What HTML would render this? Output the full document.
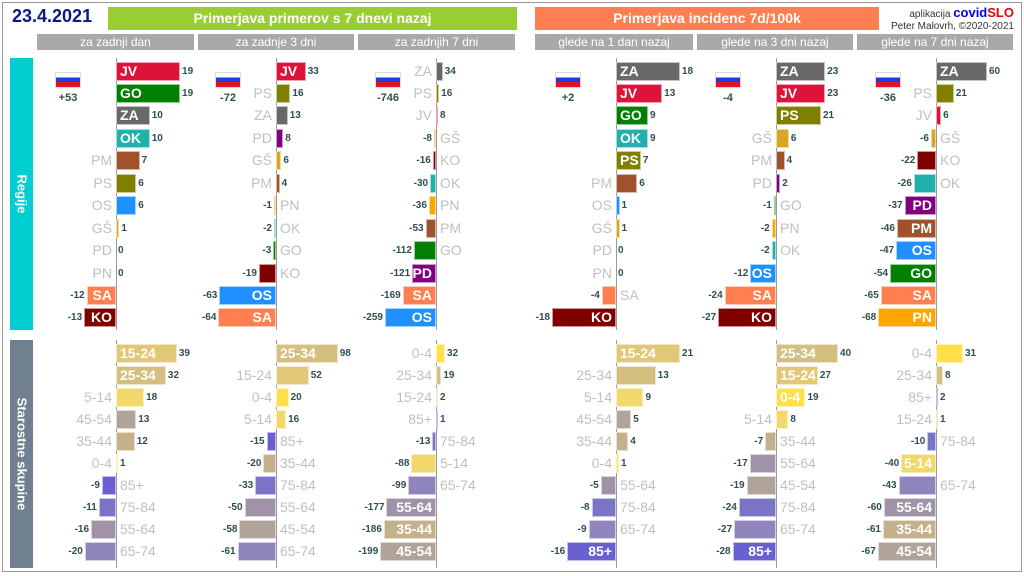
<!DOCTYPE html>
<html><head><meta charset="utf-8"><style>
body{margin:0;width:1024px;height:576px;background:#fff;position:relative;overflow:hidden;font-family:"Liberation Sans",sans-serif}
div{position:absolute;box-sizing:border-box}
#c{left:0;top:0;width:1024px;height:576px}
.frame{left:2px;top:2px;width:1020px;height:570px;border:1px solid #999}
.hdr{height:23px;top:7px;color:#fff;font-weight:bold;font-size:14px;text-align:center;line-height:23px}
.sub{top:34px;height:16px;background:#a9a9a9;color:#fff;font-size:12px;text-align:center;line-height:16px}
.side{left:10px;width:23px;color:#fff;font-weight:bold;font-size:13px}
.side span{position:absolute;left:50%;top:50%;transform:translate(-50%,-50%) rotate(90deg);white-space:nowrap}
.bar{height:19px;border:1px solid rgba(255,255,255,.6)}
.in{color:#fff;font-weight:bold;font-size:14px;line-height:19px;white-space:nowrap}
.out{color:#c0c0c0;font-size:14px;line-height:19px;white-space:nowrap}
.val{color:#2f4f4f;font-weight:bold;font-size:10px;line-height:19px;white-space:nowrap}
.ax{width:1px;background:#999}
.flag{width:26px;height:16px;border:1px solid #ddd;background:linear-gradient(#fff 0 33%,#1a3ee0 33% 66%,#e0141c 66%)}
.fn{color:#2f4f4f;font-size:11px;font-weight:bold;width:40px;text-align:center}
</style></head><body>
<div class="frame"></div>
<div style="left:12px;top:6px;font-size:18px;font-weight:bold;color:#0a1a80">23.4.2021</div>
<div class="hdr" style="left:108px;width:409px;background:#9acd32">Primerjava primerov s 7 dnevi nazaj</div>
<div class="hdr" style="left:535px;width:344px;background:#ff7f50">Primerjava incidenc 7d/100k</div>
<div style="right:10px;top:5px;font-size:10px;color:#333">aplikacija <b style="color:#0000ee;font-size:13px">covid</b><b style="color:#ee0000;font-size:13px">SLO</b></div>
<div style="right:10px;top:21px;font-size:10px;color:#333">Peter Malovrh, ©2020-2021</div>
<div class="sub" style="left:37px;width:157px">za zadnji dan</div>
<div class="sub" style="left:198px;width:156px">za zadnje 3 dni</div>
<div class="sub" style="left:358px;width:157px">za zadnjih 7 dni</div>
<div class="sub" style="left:535px;width:158px">glede na 1 dan nazaj</div>
<div class="sub" style="left:697px;width:156px">glede na 3 dni nazaj</div>
<div class="sub" style="left:857px;width:156px">glede na 7 dni nazaj</div>
<div class="side" style="top:58px;height:272px;background:#00ced1"><span>Regije</span></div>
<div class="side" style="top:340px;height:228px;background:#708090"><span>Starostne skupine</span></div>
<div id="c"></div>
<script>
const RC={JV:'#dc143c',GO:'#008000',ZA:'#696969',OK:'#20b2aa',PM:'#a0522d',PS:'#808000',OS:'#1e90ff','GŠ':'#daa520',PD:'#800080',PN:'#ffa500',SA:'#ff7f50',KO:'#800000'};
const AC={'0-4':'#ffe04a','5-14':'#f0d86a','15-24':'#e0c878','25-34':'#d4bf80','35-44':'#c4b08a','45-54':'#b0a49a','55-64':'#a093a8','65-74':'#8f84bb','75-84':'#7a74c8','85+':'#6a5fd0'};
const P=[
{x:116,f:'+53',rs:3.37,rn:2.45,as:1.56,
r:[['JV',19,1],['GO',19,1],['ZA',10,1],['OK',10,1],['PM',7],['PS',6],['OS',6],['GŠ',1],['PD',0],['PN',0],['SA',-12,1],['KO',-13,1]],
a:[['15-24',39,1],['25-34',32,1],['5-14',18],['45-54',13],['35-44',12],['0-4',1],['85+',-9],['75-84',-11],['55-64',-16],['65-74',-20]]},
{x:276,f:'-72',rs:0.9,as:0.63,
r:[['JV',33,1],['PS',16],['ZA',13],['PD',8],['GŠ',6],['PM',4],['PN',-1],['OK',-2],['GO',-3],['KO',-19],['OS',-63,1],['SA',-64,1]],
a:[['25-34',98,1],['15-24',52],['0-4',20],['5-14',16],['85+',-15],['35-44',-20],['75-84',-33],['55-64',-50],['45-54',-58],['65-74',-61]]},
{x:436,f:'-746',rs:0.197,as:0.28,
r:[['ZA',34],['PS',16],['JV',8],['GŠ',-8],['KO',-16],['OK',-30],['PN',-36],['PM',-53],['GO',-112],['PD',-121,1],['SA',-169,1],['OS',-259,1]],
a:[['0-4',32],['25-34',19],['15-24',2],['85+',1],['75-84',-13],['5-14',-88],['65-74',-99],['55-64',-177,1],['35-44',-186,1],['45-54',-199,1]]},
{x:616,f:'+2',rs:3.55,as:3.05,
r:[['ZA',18,1],['JV',13,1],['GO',9,1],['OK',9,1],['PS',7,1],['PM',6],['OS',1],['GŠ',1],['PD',0],['PN',0],['SA',-4],['KO',-18,1]],
a:[['15-24',21,1],['25-34',13],['5-14',9],['45-54',5],['35-44',4],['0-4',1],['55-64',-5],['75-84',-8],['65-74',-9],['85+',-16,1]]},
{x:776,f:'-4',rs:2.14,as:1.55,
r:[['ZA',23,1],['JV',23,1],['PS',21,1],['GŠ',6],['PM',4],['PD',2],['GO',-1],['PN',-2],['OK',-2],['OS',-12,1],['SA',-24,1],['KO',-27,1]],
a:[['25-34',40,1],['15-24',27,1],['0-4',19,1],['5-14',8],['35-44',-7],['55-64',-17],['45-54',-19],['75-84',-24],['65-74',-27],['85+',-28,1]]},
{x:936,f:'-36',rs:0.85,as:0.87,
r:[['ZA',60,1],['PS',21],['JV',6],['GŠ',-6],['KO',-22],['OK',-26],['PD',-37,1],['PM',-46,1],['OS',-47,1],['GO',-54,1],['SA',-65,1],['PN',-68,1]],
a:[['0-4',31],['25-34',8],['85+',2],['15-24',1],['75-84',-10],['5-14',-40,1],['65-74',-43],['55-64',-60,1],['35-44',-61,1],['45-54',-67,1]]}
];
let h='';
function d(cls,st,t){h+=`<div class="${cls}" style="${st}">${t===undefined?'':t}</div>`;}
function rows(p,list,sc,sn,y0,dy,cols){
 list.forEach((b,i)=>{
  const [lab,v,ins]=b; const y=Math.round(y0+i*dy-9.5); const w=v==0?0:Math.max(Math.abs(v)*(v<0?sn:sc),2);
  const c=cols[lab];
  if(v>=0){
   if(w>0)d('bar',`left:${p.x}px;top:${y}px;width:${w}px;background:${c}`);
   d('val',`left:${p.x+w+2}px;top:${y}px`,v);
   if(ins)d('in',`left:${p.x+4}px;top:${y}px`,lab);
   else d('out',`right:${1024-p.x+4}px;top:${y}px`,lab);
  }else{
   d('bar',`left:${p.x-w}px;top:${y}px;width:${w}px;background:${c}`);
   d('val',`right:${1024-(p.x-w)+2}px;top:${y}px`,v);
   if(ins)d('in',`right:${1024-p.x+4}px;top:${y}px`,lab);
   else d('out',`left:${p.x+4}px;top:${y}px`,lab);
  }
 });
}
P.forEach(p=>{
 d('ax',`left:${p.x}px;top:58px;height:272px`);
 d('ax',`left:${p.x}px;top:340px;height:228px`);
 d('flag',`left:${p.x-61}px;top:72px`);
 d('fn',`left:${p.x-68}px;top:92px`,p.f);
 rows(p,p.r,p.rs,p.rn||p.rs,71,22.45,RC);
 rows(p,p.a,p.as,p.as,353,22.1,AC);
});
document.getElementById('c').innerHTML=h;
</script>
</body></html>
